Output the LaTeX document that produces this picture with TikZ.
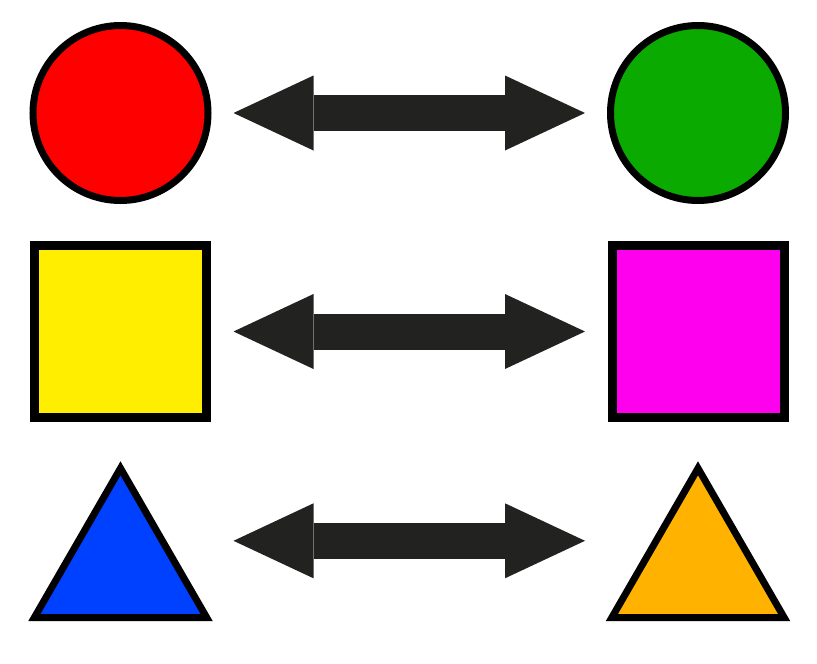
\documentclass[tikz,border=0pt]{standalone}
\usetikzlibrary{arrows.meta,shapes.geometric}
\definecolor{shapered}{HTML}{FF0000}
\definecolor{shapegreen}{HTML}{0AAA00}
\definecolor{shapeyellow}{HTML}{FFEE00}
\definecolor{shapemagenta}{HTML}{FF00EE}
\definecolor{shapeblue}{HTML}{0040FF}
\definecolor{shapeorange}{HTML}{FFB300}
\definecolor{arrowgray}{HTML}{222220}

\begin{document}
\begin{tikzpicture}[x=1pt,y=-1pt,
  every node/.style={draw=black, inner sep=0pt, outer sep=0pt},
  twoway/.style={line width=36pt, color=arrowgray, {Triangle[length=80pt,width=75pt,line width=0pt]}-{Triangle[length=80pt,width=75pt,line width=0pt]}}]
\useasboundingbox (0,0) rectangle (817,664);

\node[circle, line width=7pt, minimum size=175pt, fill=shapered] (redcirc) at (120.5,113) {};
\node[circle, line width=7pt, minimum size=175pt, fill=shapegreen] (greencirc) at (698,113) {};

\node[rectangle, line width=9pt, minimum size=172pt, fill=shapeyellow] (yellowsq) at (120.5,331.5) {};
\node[rectangle, line width=9pt, minimum size=172pt, fill=shapemagenta] (magentasq) at (698,331.5) {};

\node[regular polygon, regular polygon sides=3, line width=7pt, minimum size=199pt, fill=shapeblue] (bluetri) at (120.5,567.8) {};
\node[regular polygon, regular polygon sides=3, line width=7pt, minimum size=199pt, fill=shapeorange] (orangetri) at (698,567.8) {};

\draw[twoway] ([xshift=113pt]redcirc.center) -- ([xshift=-113pt]greencirc.center);
\draw[twoway] ([xshift=113pt]yellowsq.center) -- ([xshift=-113pt]magentasq.center);
\draw[twoway] ([shift={(113pt,27pt)}]bluetri.center) -- ([shift={(-113pt,27pt)}]orangetri.center);
\end{tikzpicture}
\end{document}
